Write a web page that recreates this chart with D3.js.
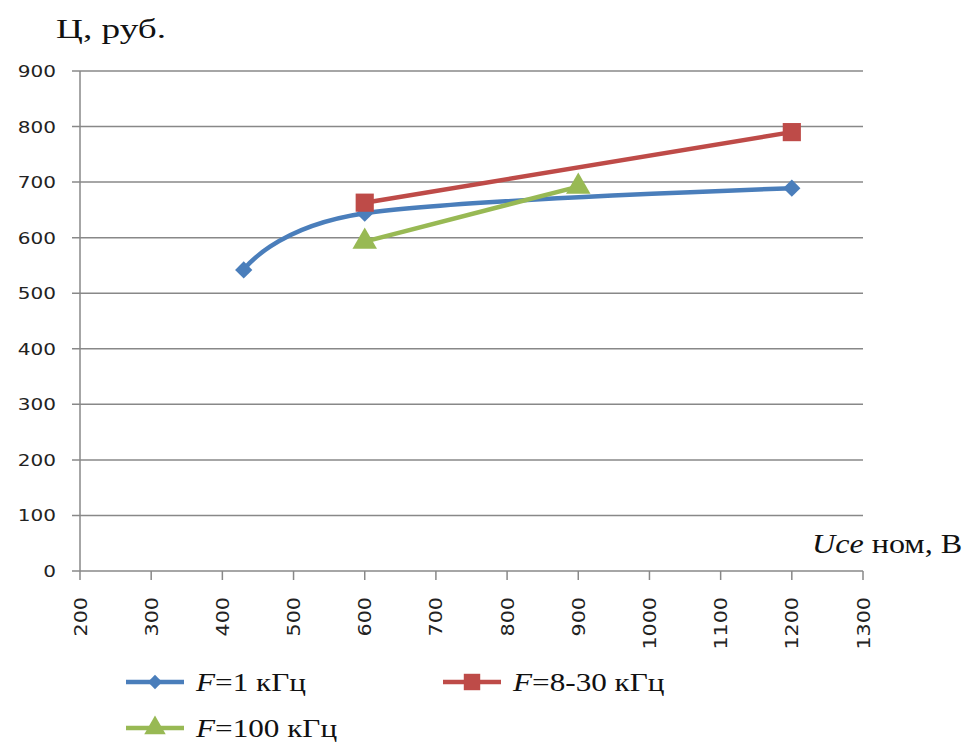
<!DOCTYPE html>
<html>
<head>
<meta charset="utf-8">
<script src="https://cdn.jsdelivr.net/npm/d3@7"></script>
<style>
body { margin: 0; background: #fff; }
svg { display: block; }
</style>
</head>
<body>
<script>
// данные
var xTicks = [200, 300, 400, 500, 600, 700, 800, 900, 1000, 1100, 1200, 1300];
var yTicks = [0, 100, 200, 300, 400, 500, 600, 700, 800, 900];

var f1_u = [430, 600, 1200];
var f1_c = [542, 644, 689];
var f8_u = [600, 1200];
var f8_c = [663, 790];
var f100_u = [600, 900];
var f100_c = [593, 692];

var seriesNames = ["=1 кГц", "=8-30 кГц", "=100 кГц"];
var colors = ["#4a7ebb", "#be4b48", "#98b954"];

var w = 968, h = 744;
var plotL = 80, plotR = 863, plotT = 71, plotB = 571;
var serif = "'Liberation Serif', 'Times New Roman', 'DejaVu Serif', serif";
var sans = "'DejaVu Sans', Verdana, sans-serif";

var svg = d3.select("body").append("svg")
    .attr("width", w)
    .attr("height", h);

var x = d3.scaleLinear().domain([200, 1300]).range([plotL, plotR]);
var y = d3.scaleLinear().domain([0, 900]).range([plotB, plotT]);

// горизонтальная сетка
svg.append("g").selectAll("line").data(yTicks).enter().append("line")
    .attr("x1", plotL - 8).attr("x2", plotR)
    .attr("y1", function (d) { return y(d); })
    .attr("y2", function (d) { return y(d); })
    .attr("stroke", "#888")
    .attr("stroke-width", 1.5);

// ось Y
svg.append("line")
    .attr("x1", plotL).attr("x2", plotL)
    .attr("y1", plotT).attr("y2", plotB)
    .attr("stroke", "#888").attr("stroke-width", 1.5);

svg.append("g").selectAll("text").data(yTicks).enter().append("text")
    .attr("transform", function (d) { return "translate(" + (plotL - 24) + "," + (y(d) + 6) + ") scale(1.25,1)"; })
    .attr("text-anchor", "end")
    .style("font-family", sans)
    .style("font-size", "16px")
    .attr("fill", "#222")
    .text(function (d) { return d; });

// ось X: риски и подписи
svg.append("g").selectAll("line").data(xTicks).enter().append("line")
    .attr("x1", function (d) { return x(d); })
    .attr("x2", function (d) { return x(d); })
    .attr("y1", plotB).attr("y2", plotB + 9)
    .attr("stroke", "#888").attr("stroke-width", 1.5);

svg.append("g").selectAll("text").data(xTicks).enter().append("text")
    .attr("transform", function (d) { return "translate(" + (x(d) + 6.5) + "," + (plotB + 26) + ") rotate(-90) scale(1.15,1)"; })
    .attr("text-anchor", "end")
    .style("font-family", sans)
    .style("font-size", "18px")
    .attr("fill", "#222")
    .text(function (d) { return d; });

// заголовки осей
svg.append("text")
    .attr("transform", "translate(56,38) scale(1.33,1)")
    .style("font-family", serif)
    .style("font-size", "28px")
    .attr("fill", "#111")
    .text("Ц, руб.");

var xt = svg.append("text")
    .attr("transform", "translate(812,553) scale(1.19,1)")
    .style("font-family", serif)
    .style("font-size", "27px")
    .attr("fill", "#111");
xt.append("tspan").style("font-style", "italic").text("Uce");
xt.append("tspan").text(" ном, В");

// линии
var smooth = d3.line()
    .x(function (d) { return x(d[0]); })
    .y(function (d) { return y(d[1]); })
    .curve(d3.curveCatmullRom.alpha(0));
var straight = d3.line()
    .x(function (d) { return x(d[0]); })
    .y(function (d) { return y(d[1]); });

var s1 = d3.zip(f1_u, f1_c), s2 = d3.zip(f8_u, f8_c), s3 = d3.zip(f100_u, f100_c);

svg.append("path").datum(s1).attr("d", smooth)
    .attr("fill", "none").attr("stroke", colors[0]).attr("stroke-width", 4.5);
svg.append("path").datum(s3).attr("d", straight)
    .attr("fill", "none").attr("stroke", colors[2]).attr("stroke-width", 4.5);
svg.append("path").datum(s2).attr("d", straight)
    .attr("fill", "none").attr("stroke", colors[1]).attr("stroke-width", 4.5);

var diamond = d3.symbol().type(d3.symbolDiamond2).size(190);
var square = d3.symbol().type(d3.symbolSquare).size(330);
var triangle = d3.symbol().type(d3.symbolTriangle).size(260);

function markers(data, sym, color) {
    svg.append("g").selectAll("path").data(data).enter().append("path")
        .attr("d", sym)
        .attr("transform", function (d) { return "translate(" + x(d[0]) + "," + y(d[1]) + ")"; })
        .attr("fill", color);
}
markers(s1, diamond, colors[0]);
markers(s3, triangle, colors[2]);
markers(s2, square, colors[1]);

// легенда
var legendPos = [[126, 682], [443, 682], [126, 728]];
var legendSym = [
    d3.symbol().type(d3.symbolDiamond2).size(130),
    d3.symbol().type(d3.symbolSquare).size(270),
    d3.symbol().type(d3.symbolTriangle).size(200)
];
legendPos.forEach(function (p, i) {
    var g = svg.append("g").attr("transform", "translate(" + p[0] + "," + p[1] + ")");
    g.append("line").attr("x1", 0).attr("x2", 58).attr("y1", 0).attr("y2", 0)
        .attr("stroke", colors[i]).attr("stroke-width", 4.5);
    g.append("path").attr("d", legendSym[i]).attr("transform", "translate(29,0)")
        .attr("fill", colors[i]);
    var t = g.append("text").attr("transform", "translate(70,9) scale(1.2,1)")
        .style("font-family", serif)
        .style("font-size", "26px")
        .attr("fill", "#111");
    t.append("tspan").style("font-style", "italic").text("F");
    t.append("tspan").text(seriesNames[i]);
});
</script>
</body>
</html>
